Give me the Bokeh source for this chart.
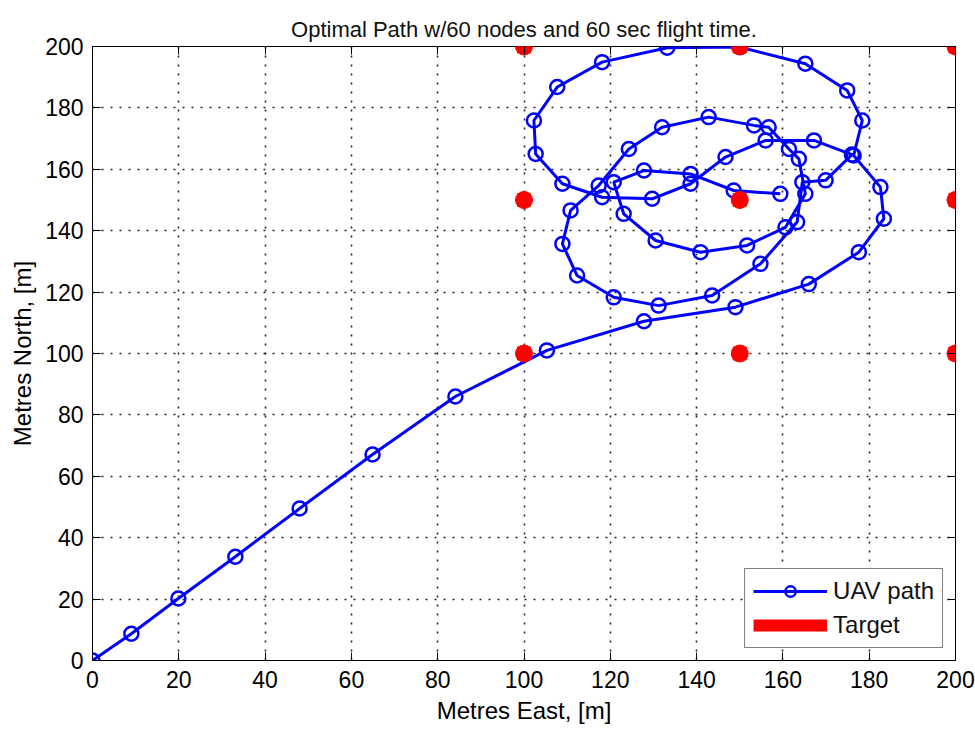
from bokeh.plotting import figure
from bokeh.models import (Range1d, FixedTicker, LinearAxis, Legend, LegendItem,
                          ColumnDataSource)
from bokeh.embed import file_html
from bokeh.resources import INLINE

# UAV path nodes: metres east / metres north
east = [0, 9, 19.9, 33.1, 48, 64.9, 84.1, 105.3,
        127.8, 149, 166, 177.6, 183.4, 182.6, 176.4, 178.4, 174.9, 165.2,
        150, 133.2, 118.1, 107.7, 102.3, 102.7, 108.9, 118.1, 129.7,
        138.6, 146.7, 156, 167.2, 176, 169.9, 164.5, 163.3, 154.8, 143.6,
        131.2, 120.8, 112.3, 108.9, 110.8, 117.3, 124.3, 132, 142.8, 153.3,
        156.7, 161.4, 163.7, 165.2, 160.6, 151.7, 140.9, 130.5, 123.1,
        120.8, 127.8, 138.6, 148.6, 159.4]
north = [0, 8.7, 20.2, 33.8, 49.5, 67.1, 86, 101,
         110.5, 115.1, 122.6, 133, 143.9, 154.2, 164.5, 175.9, 185.7, 194.4,
         199.8, 199.6, 194.9, 186.8, 175.9, 165, 155.3, 150.9, 150.4,
         155.3, 164, 169.4, 169.4, 164.8, 156.4, 155.8, 142.8, 129.2, 118.9,
         115.6, 118.3, 125.4, 135.7, 146.6, 154.7, 166.6, 173.7, 177, 174.3,
         173.7, 166.6, 163.4, 152, 141.1, 135.2, 133, 136.8, 145.5,
         155.8, 159.6, 158.5, 153.1, 152]

# target grid
target_east = [100, 150, 200, 100, 150, 200, 100, 150, 200]
target_north = [200, 200, 200, 150, 150, 150, 100, 100, 100]

ticks = [0, 20, 40, 60, 80, 100, 120, 140, 160, 180, 200]

FONT = "Liberation Sans"

p = figure(width=975, height=729,
           x_range=Range1d(0, 200), y_range=Range1d(0, 200),
           min_border_left=92, min_border_right=20,
           min_border_top=46, min_border_bottom=69,
           output_backend="svg", toolbar_location=None,
           title="Optimal Path w/60 nodes and 60 sec flight time.")

p.background_fill_color = "white"
p.border_fill_color = "white"
p.outline_line_color = "black"
p.outline_line_width = 1

p.title.align = "center"
p.title.text_font = FONT
p.title.text_font_size = "22px"
p.title.text_font_style = "normal"
p.title.text_color = "#111111"

ticker = FixedTicker(ticks=ticks)

for ax in (p.xaxis[0], p.yaxis[0]):
    ax.ticker = ticker
    ax.major_tick_in = 8
    ax.major_tick_out = 0
    ax.minor_tick_line_color = None
    ax.axis_line_color = None
    ax.major_label_text_font = FONT
    ax.major_label_text_font_size = "23px"
    ax.major_label_text_color = "black"
    ax.axis_label_text_font = FONT
    ax.axis_label_text_font_size = "24px"
    ax.axis_label_text_font_style = "normal"
    ax.axis_label_text_color = "black"

p.xaxis.axis_label = "Metres East, [m]"
p.yaxis.axis_label = "Metres North, [m]"
p.xaxis.major_label_standoff = 10
p.xaxis.axis_label_standoff = 6
p.yaxis.major_label_standoff = 9
p.yaxis.axis_label_standoff = 6

# tick marks on the top and right edges of the box (no labels there);
# the top one keeps a little room so the title sits higher
for side, gap in (("above", 9), ("right", 0)):
    ax = LinearAxis(ticker=ticker)
    ax.major_tick_in = 8
    ax.major_tick_out = 0
    ax.minor_tick_line_color = None
    ax.axis_line_color = None
    ax.major_label_overrides = {t: "" for t in ticks}
    ax.major_label_standoff = gap
    p.add_layout(ax, side)

for g in (p.xgrid[0], p.ygrid[0]):
    g.ticker = ticker
    g.grid_line_color = "black"
    g.grid_line_width = 1.6
    g.grid_line_dash = "2 7"
    g.grid_line_alpha = 0.85

src = ColumnDataSource(dict(x=east, y=north))
path_line = p.line("x", "y", source=src, line_color="#0000ff", line_width=3)
path_pts = p.scatter("x", "y", source=src, marker="circle", size=14,
                     line_color="#0000ff", line_width=2.5, fill_alpha=0)

# targets: a thick red line style whose points are broken apart by NaN gaps,
# so only the markers show on the axes and the line shows in the legend
nan = float("nan")
gap_x, gap_y = [], []
for tx, ty in zip(target_east, target_north):
    gap_x += [tx, nan]
    gap_y += [ty, nan]
tgt_line = p.line(gap_x, gap_y, line_color="#ff0000", line_width=12,
                  line_cap="butt")
tsrc = ColumnDataSource(dict(x=target_east, y=target_north))
tgt_sq = p.scatter("x", "y", source=tsrc, marker="square", size=13,
                   color="#ff0000")
tgt_pts = p.scatter("x", "y", source=tsrc, marker="circle", size=17,
                    color="#ff0000")

legend = Legend(items=[
    LegendItem(label="UAV path", renderers=[path_line, path_pts]),
    LegendItem(label="Target", renderers=[tgt_line]),
], location="bottom_right")
legend.margin = 12
legend.padding = 8
legend.spacing = 6
legend.glyph_width = 74
legend.glyph_height = 26
legend.label_standoff = 6
legend.label_text_font = FONT
legend.label_text_font_size = "24px"
legend.label_text_color = "#111111"
legend.border_line_color = "black"
legend.border_line_width = 1
legend.background_fill_color = "white"
legend.background_fill_alpha = 1
p.add_layout(legend)

open("out.html", "w").write(file_html(p, INLINE))
